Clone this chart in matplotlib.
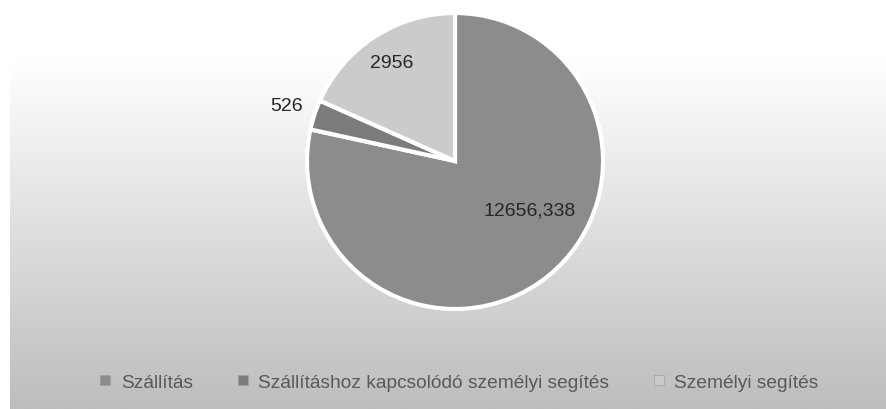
import numpy as np
import matplotlib
matplotlib.use("Agg")
import matplotlib.pyplot as plt
from matplotlib.lines import Line2D
from matplotlib.colors import LinearSegmentedColormap

categories = ["Szállítás", "Szállításhoz kapcsolódó személyi segítés", "Személyi segítés"]
values = [12656.338, 526, 2956]

colors = ["#8c8c8c", "#7c7c7c", "#cbcbcb"]
label_r = [0.60, 1.20, 0.79]
label_dtheta = [18, 0, 0]

W, H = 887, 410
fig = plt.figure(figsize=(W / 100, H / 100), dpi=100)
ax = fig.add_axes([0, 0, 1, 1])

# background gradient (white at top -> gray at bottom)
grad = np.linspace(1.0, 0.0, 256).reshape(-1, 1)
cmap = LinearSegmentedColormap.from_list("bg", ["#bdbdbd", "#ffffff"])
ax.imshow(grad, cmap=cmap, extent=[10, W, 0, 350], aspect="auto",
          origin="upper", vmin=0, vmax=1, zorder=0)

center = (455, 248)
radius = 148
wedges, _ = ax.pie(values, colors=colors, startangle=90, counterclock=False,
                   center=center, radius=radius,
                   wedgeprops=dict(edgecolor="white", linewidth=3),
                   frame=True)
ax.set_xlim(0, W)
ax.set_ylim(0, H)
ax.set_aspect("equal")
ax.axis("off")

for w, v, rf, dt in zip(wedges, values, label_r, label_dtheta):
    th = np.deg2rad((w.theta1 + w.theta2) / 2 + dt)
    x = center[0] + rf * radius * np.cos(th)
    y = center[1] + rf * radius * np.sin(th)
    txt = f"{v:.10g}".replace(".", ",")
    ax.text(x, y, txt, ha="center", va="center", fontsize=14,
            family="Liberation Sans", color="#262626", zorder=5)

handles = [Line2D([], [], marker="s", linestyle="none", markersize=7,
                  markerfacecolor=c, markeredgecolor="#a0a0a0", markeredgewidth=0.5)
           for c in colors]
leg = fig.legend(handles, categories, loc="center", bbox_to_anchor=(459 / W, 1 - 383 / H),
                 ncol=3, frameon=False, handlelength=0.6, handletextpad=0.5,
                 columnspacing=2.3, prop=dict(family="Liberation Sans", size=13.8))
for t in leg.get_texts():
    t.set_color("#595959")

fig.savefig("out.png", dpi=100)
